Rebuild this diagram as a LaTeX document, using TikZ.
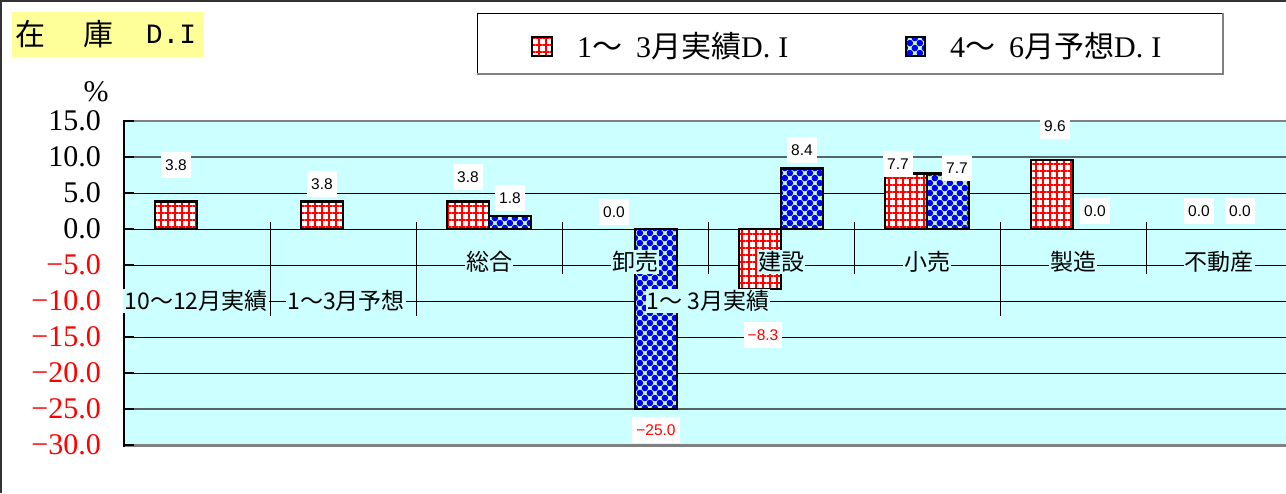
\documentclass[tikz,border=0pt]{standalone}
\usepackage{fontspec}
\setmainfont{Liberation Serif}
\newfontfamily\cjk{Noto Sans CJK JP}
\newfontfamily\lsans{Liberation Sans}
\newfontfamily\lmono{Liberation Mono}
\usetikzlibrary{patterns.meta}
\definecolor{plotbg}{RGB}{204,255,255}
\definecolor{titlebg}{RGB}{255,255,153}
\definecolor{dotgreen}{RGB}{204,255,204}
\definecolor{gridgray}{RGB}{85,100,100}
\definecolor{framegray}{RGB}{128,128,128}
\tikzset{
  redbar/.style={preaction={fill=white}, pattern={Hatch[distance=7pt,line width=1.5pt]}, pattern color=red, draw=black, line width=2.5pt},
  bluebar/.style={preaction={fill=dotgreen}, pattern={Dots[distance=7.07pt,radius=3.3pt,angle=45]}, pattern color=blue, draw=black, line width=2.5pt},
  vallab/.style={fill=white, inner xsep=4pt, inner ysep=0pt, minimum height=26pt, font=\lsans\fontsize{15.5}{17}\selectfont},
  catlab/.style={fill=plotbg, inner xsep=1pt, inner ysep=1pt, font=\cjk\fontsize{23}{26}\selectfont},
  ylab/.style={anchor=east, inner sep=0pt, font=\fontsize{30}{32}\selectfont},
  grid1/.style={black, line width=1pt},
  grid2/.style={gridgray, line width=1.5pt},
  cattick/.style={black, line width=1pt},
  legtext/.style={anchor=west, inner sep=0pt, font=\fontsize{30}{32}\selectfont},
}
\begin{document}
\begin{tikzpicture}[x=1pt,y=-1pt]
\useasboundingbox (0,0) rectangle (1286,493);
\fill[white] (0,0) rectangle (1286,493);
% outer frame
\draw[black!80, line width=2pt] (1,493) -- (1,1) -- (1286,1);
% title
\fill[titlebg] (12,12) rectangle (203,57);
\node[font=\cjk\fontsize{30}{32}\selectfont, inner sep=0pt] (t1) at (31,34) {在};
\node[font=\cjk\fontsize{30}{32}\selectfont, inner sep=0pt] (t2) at (98,34) {庫};
\node[font=\lmono\fontsize{28}{30}\selectfont, inner sep=0pt] (t3) at (171,34) {D.I};
% legend
\draw[black, line width=1pt, fill=white] (477,13) rectangle (1223,74);
\draw[framegray, line width=2pt] (477,74) -- (1223,74) -- (1223,13);
\path[redbar, line width=1.5pt] (532,37) rectangle (552,56);
\node[legtext] (leg1) at (577,46) {1{\cjk 〜}\hspace{14pt}3{\cjk 月実績}D.\hspace{8pt}I};
\path[bluebar, line width=1.5pt] (906,37) rectangle (925,56);
\node[legtext] (leg2) at (950,46) {4{\cjk 〜}\hspace{14pt}6{\cjk 月予想}D.\hspace{8pt}I};
% percent
\node[font=\fontsize{30}{32}\selectfont, inner sep=0pt] (pct) at (96,92) {\%};
% plot area
\fill[plotbg] (124,121) rectangle (1286,445);
\draw[grid2] (124,157) -- (1286,157);
\draw[grid1] (124,193) -- (1286,193);
\draw[grid1] (124,229) -- (1286,229);
\draw[grid1] (124,265) -- (1286,265);
\draw[grid1] (124,301) -- (1286,301);
\draw[grid1] (124,337) -- (1286,337);
\draw[grid1] (124,373) -- (1286,373);
\draw[grid2] (124,409) -- (1286,409);
\draw[framegray, line width=2pt] (124,121) -- (1286,121);
\draw[framegray, line width=3pt] (124,445.5) -- (1286,445.5);
\draw[black, line width=2pt] (124,120) -- (124,446.5);
\foreach \yy in {121,157,193,229,265,301,337,373,409,445}
  \draw[black, line width=1.5pt] (124,\yy) -- (134,\yy);
% y labels
\node[ylab] (y15) at (101,121) {15.0};
\node[ylab] (y10) at (101,157) {10.0};
\node[ylab] (y5) at (101,193) {5.0};
\node[ylab] (y0) at (101,229) {0.0};
\node[ylab, red] (ym5) at (101,265) {−5.0};
\node[ylab, red] (ym10) at (101,301) {−10.0};
\node[ylab, red] (ym15) at (101,337) {−15.0};
\node[ylab, red] (ym20) at (101,373) {−20.0};
\node[ylab, red] (ym25) at (101,409) {−25.0};
\node[ylab, red] (ym30) at (101,445) {−30.0};
% bars
\path[redbar] (155,229) rectangle (197,201.6);
\path[redbar] (301,229) rectangle (343,201.6);
\path[redbar] (447,229) rectangle (489,201.6);
\path[bluebar] (489,229) rectangle (531,216.0);
\path[bluebar] (635,229) rectangle (677,409);
\path[redbar] (739,229) rectangle (781,288.8);
\path[bluebar] (781,229) rectangle (823,168.5);
\path[redbar] (885,229) rectangle (927,173.6);
\path[bluebar] (927,229) rectangle (969,173.6);
\path[redbar] (1031,229) rectangle (1073,159.9);
% category ticks
\foreach \xx in {270,416,1000} \draw[cattick] (\xx,222) -- (\xx,316);
\foreach \xx in {562,708,854,1146} \draw[cattick] (\xx,222) -- (\xx,274);
% category labels
\node[catlab] (c3) at (489,262) {総合};
\node[catlab] (c4) at (635,262) {卸売};
\node[catlab] (c5) at (781,262) {建設};
\node[catlab] (c6) at (927,262) {小売};
\node[catlab] (c7) at (1073,262) {製造};
\node[catlab] (c8) at (1219,262) {不動産};
\node[catlab] (g1) at (196,301) {10〜12月実績};
\node[catlab] (g2) at (346,301) {1〜3月予想};
\node[catlab] (g3) at (708,301) {1〜\hspace{5pt}3月実績};
% value labels
\node[vallab] (v1) at (176,165) {3.8};
\node[vallab] (v2) at (322,184) {3.8};
\node[vallab] (v3a) at (468,177) {3.8};
\node[vallab] (v3b) at (510,198) {1.8};
\node[vallab] (v4a) at (614,212) {0.0};
\node[vallab, text=red] (v4b) at (656,430) {−25.0};
\node[vallab] (v5b) at (802,150) {8.4};
\node[vallab, text=red] (v5a) at (763,335) {−8.3};
\node[vallab] (v6a) at (898,164) {7.7};
\node[vallab] (v6b) at (957,168) {7.7};
\node[vallab] (v7a) at (1055,126) {9.6};
\node[vallab] (v7b) at (1095,211) {0.0};
\node[vallab] (v8a) at (1199,211) {0.0};
\node[vallab] (v8b) at (1240,211) {0.0};
\end{tikzpicture}
\end{document}
